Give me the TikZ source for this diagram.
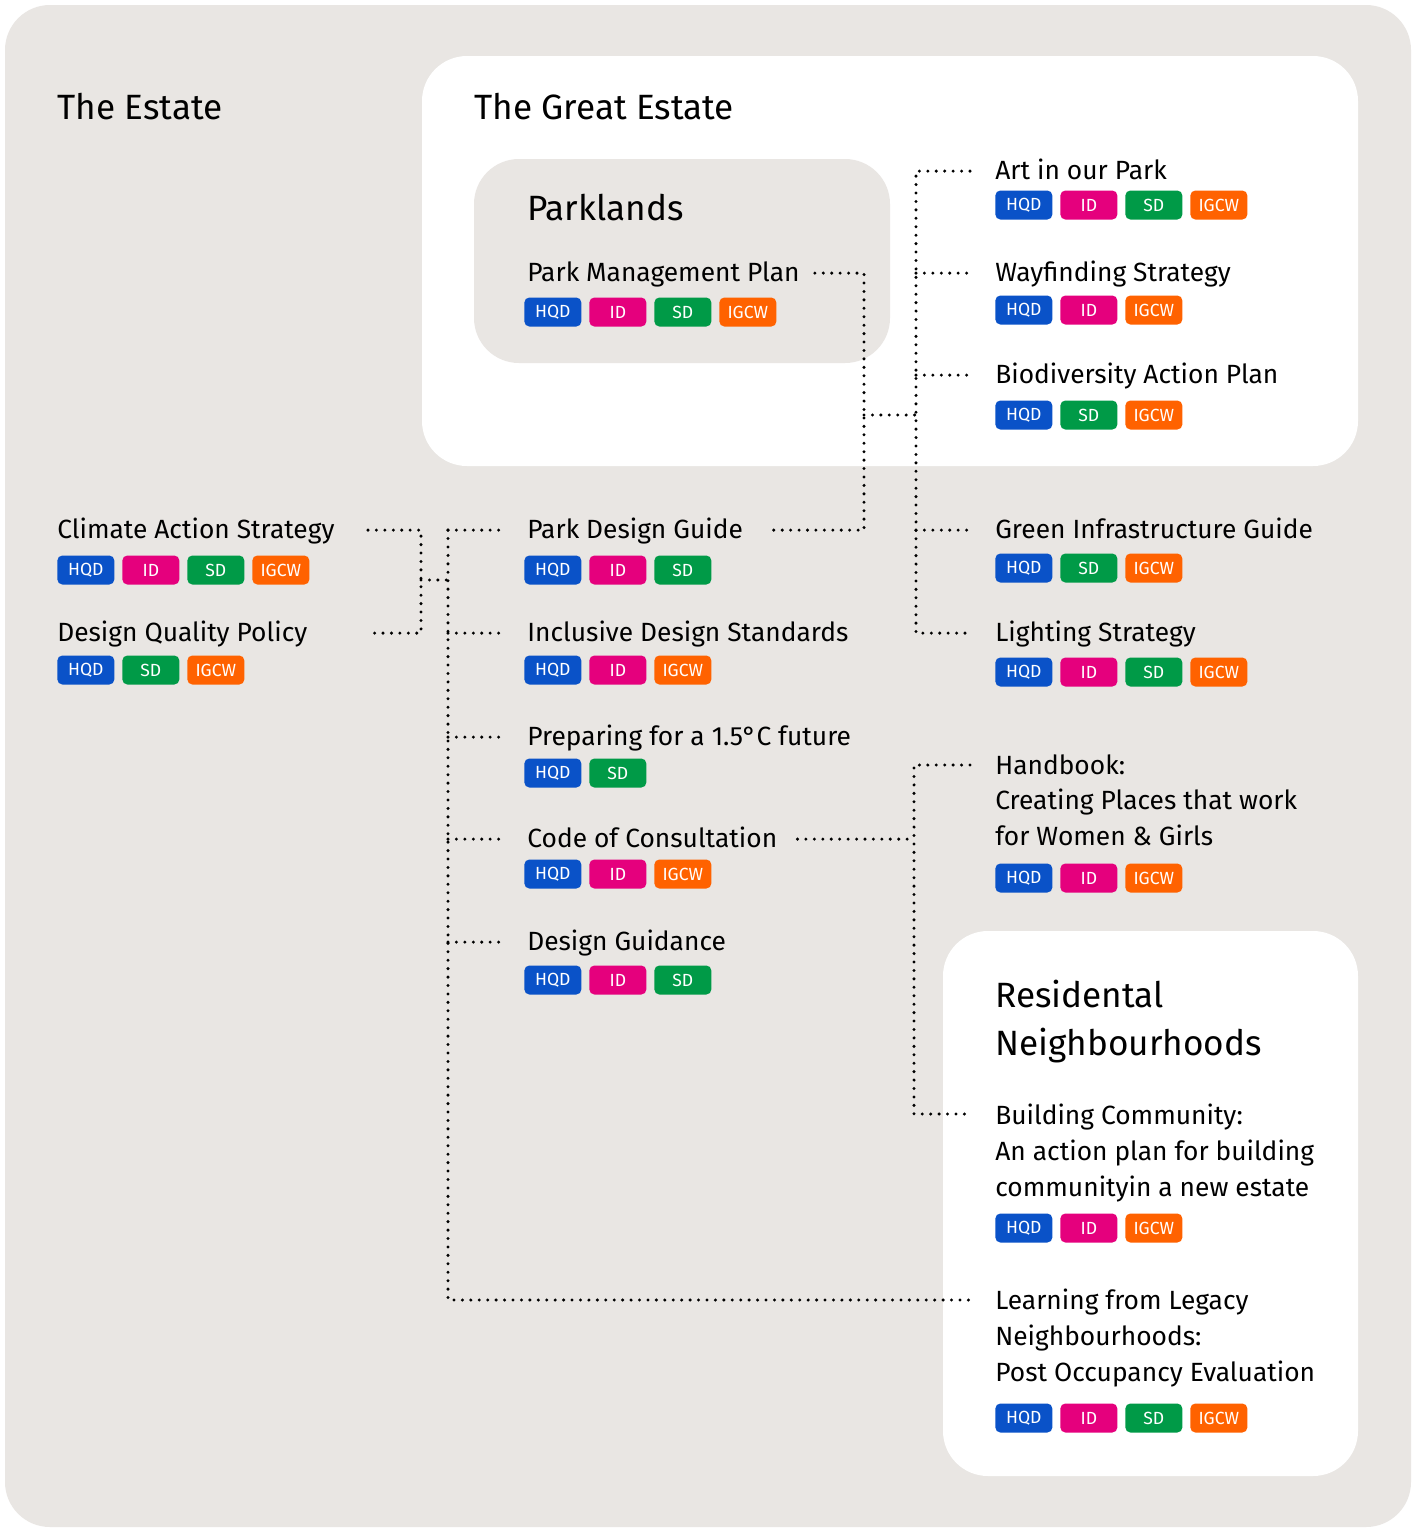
\documentclass[tikz,border=0pt]{standalone}
\usepackage{fontspec}
\setmainfont{Fira Sans}
\usetikzlibrary{calc}
\definecolor{estate gray}{HTML}{E9E6E3}
\definecolor{HQD}{HTML}{0A52C8}
\definecolor{ID}{HTML}{E5007D}
\definecolor{SD}{HTML}{009A47}
\definecolor{IGCW}{HTML}{FF6200}
\tikzset{
  % For the rounded panels.
  panel/.style={
    rounded corners=0.9cm},
%
  % For the big headings.
  heading/.style={
    anchor=west,
    inner sep=0pt,
    font=\fontsize{20}{27.2}\selectfont},
%
  % For one-line document titles.
  doc/.style={
    anchor=west,
    inner sep=0pt,
    text height=0.95em,
    text depth=0.05em,
    yshift=-1.2pt,
    font=\fontsize{15}{20.4}\selectfont},
%
  % For document titles over several lines.
  long doc/.style={
    anchor=north west,
    inner sep=0pt,
    align=left,
    font=\fontsize{15}{20.4}\selectfont},
%
  % For the coloured team tags.
  tagbox/.style={
    fill=#1,
    text=white,
    rounded corners=0.1cm,
    minimum width=1.14cm,
    minimum height=0.58cm,
    inner sep=0pt,
    anchor=west,
    font=\fontsize{10}{12}\selectfont},
%
  % For the dotted links.
  dotted line/.style={
    line width=1.9pt,
    line cap=round,
    dash pattern=on 0pt off 4.8pt},
}

% A row of tags, 65 units apart.
\newcommand{\tagrow}[4]{%
  \foreach \t [count=\i from 0] in {#4}
    \node[tagbox=\t] (#1-\t) at ({#2+65*\i},#3) {\t};}

\begin{document}
\begin{tikzpicture}[x=0.02cm, y=-0.02cm]
  \useasboundingbox (0,0) rectangle (1418,1529);
  \fill[white] (0,0) rectangle (1418,1529);
  \fill[estate gray, panel] (5,5) rectangle (1411,1527);
  \fill[white, panel] (422,56) rectangle (1358,466);
  \fill[estate gray, panel] (474,159) rectangle (890,363);
  \fill[white, panel] (943,931) rectangle (1358,1476);

  \node[heading] (estate) at (57,107) {The Estate};
  \node[heading] (great) at (474,107) {The Great Estate};
  \node[heading] (parklands) at (527,208) {Parklands};
  \node[heading, anchor=north west, align=left] (residential) at (995,980)
    {Residental\\Neighbourhoods};

  % Documents.
  \node[doc] (pmp) at (527,271) {Park Management Plan};
  \node[doc] (art) at (995,169) {Art in our Park};
  \node[doc] (way) at (995,271) {Wayfinding Strategy};
  \node[doc] (bio) at (995,373) {Biodiversity Action Plan};
  \node[doc] (cas) at (57,528) {Climate Action Strategy};
  \node[doc] (dqp) at (57,631) {Design Quality Policy};
  \node[doc] (pdg) at (527,528) {Park Design Guide};
  \node[doc] (ids) at (527,631) {Inclusive Design Standards};
  \node[doc] (pf) at (527,735) {Preparing for a 1.5°C future};
  \node[doc] (coc) at (527,837) {Code of Consultation};
  \node[doc] (dg) at (527,940) {Design Guidance};
  \node[doc] (gig) at (995,528) {Green Infrastructure Guide};
  \node[doc] (ls) at (995,631) {Lighting Strategy};
  \node[long doc] (hb) at (995,754)
    {Handbook:\\Creating Places that work\\for Women \& Girls};
  \node[long doc] (bc) at (995,1104)
    {Building Community:\\An action plan for building\\communityin a new estate};
  \node[long doc] (lfl) at (995,1289)
    {Learning from Legacy\\Neighbourhoods:\\Post Occupancy Evaluation};

  % Tags.
  \tagrow{pmp}{524}{312}{HQD,ID,SD,IGCW}
  \tagrow{art}{995}{205}{HQD,ID,SD,IGCW}
  \tagrow{way}{995}{310}{HQD,ID,IGCW}
  \tagrow{bio}{995}{415}{HQD,SD,IGCW}
  \tagrow{cas}{57}{570}{HQD,ID,SD,IGCW}
  \tagrow{dqp}{57}{670}{HQD,SD,IGCW}
  \tagrow{pdg}{524}{570}{HQD,ID,SD}
  \tagrow{ids}{524}{670}{HQD,ID,IGCW}
  \tagrow{pf}{524}{773}{HQD,SD}
  \tagrow{coc}{524}{874}{HQD,ID,IGCW}
  \tagrow{dg}{524}{980}{HQD,ID,SD}
  \tagrow{gig}{995}{568}{HQD,SD,IGCW}
  \tagrow{ls}{995}{672}{HQD,ID,SD,IGCW}
  \tagrow{hb}{995}{878}{HQD,ID,IGCW}
  \tagrow{bc}{995}{1228}{HQD,ID,IGCW}
  \tagrow{lfl}{995}{1418}{HQD,ID,SD,IGCW}

  % Columns of the links.
  \coordinate (lout) at (368,0);
  \coordinate (colL) at (421,580);
  \coordinate (colM) at (448,0);
  \coordinate (colP) at (864,415);
  \coordinate (colR) at (916,0);
  \coordinate (colH) at (914,0);
  \coordinate (hbin) at ($(hb.north west)+(-25,11)$);
  \coordinate (bcin) at ($(bc.north west)+(-25,10)$);
  \coordinate (lflin) at ($(lfl.north west)+(-25,11)$);

  % Left bracket.
  \draw[dotted line] (cas.east -| lout) -- (cas.east -| colL)
    -- (dqp.east -| colL) -- (dqp.east -| lout);
  \draw[dotted line] (colL) -- (colL -| colM);

  % Middle spine.
  \draw[dotted line] (pdg.west -| colM) -- (lflin -| colM) -- (lflin);
  \foreach \n in {pdg,ids,pf,coc,dg}
    \draw[dotted line] (\n.west -| colM) -- ([xshift=-0.5cm]\n.west);

  % Park spine.
  \draw[dotted line] ([xshift=0.3cm]pmp.east) -- (pmp.east -| colP)
    -- (pdg.east -| colP) -- ([xshift=0.5cm]pdg.east);
  \draw[dotted line] (colP) -- (colP -| colR);

  % Right spine.
  \draw[dotted line] ([xshift=-0.5cm]art.west) -| (ls.west -| colR)
    -- ([xshift=-0.5cm]ls.west);
  \foreach \n in {way,bio,gig}
    \draw[dotted line] (\n.west -| colR) -- ([xshift=-0.5cm]\n.west);

  % Handbook spine.
  \draw[dotted line] (hbin) -| (bcin -| colH) -- (bcin);
  \draw[dotted line] ([xshift=0.4cm]coc.east) -- (coc.east -| colH);
\end{tikzpicture}
\end{document}
